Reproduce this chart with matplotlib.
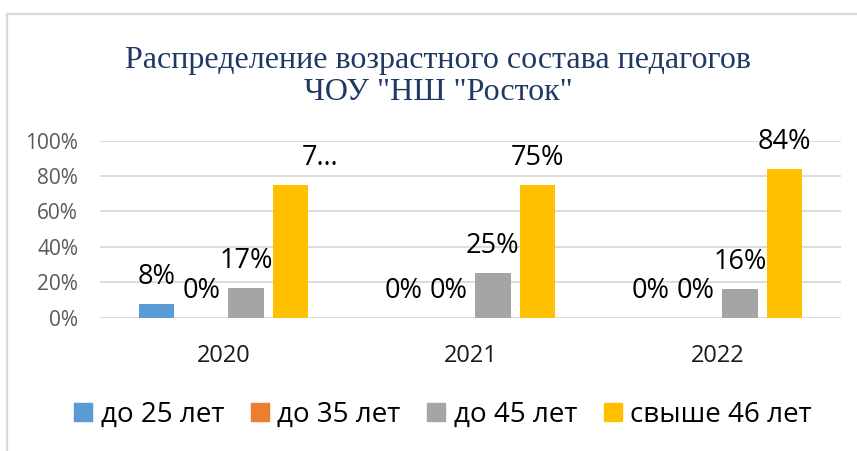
import numpy as np
import matplotlib
matplotlib.use('Agg')
import matplotlib.pyplot as plt
from matplotlib.patches import Patch
from matplotlib.ticker import PercentFormatter

# data
years = ['2020', '2021', '2022']
groups = ['до 25 лет', 'до 35 лет', 'до 45 лет', 'свыше 46 лет']
under25 = [0.08, 0.0, 0.0]
under35 = [0.0, 0.0, 0.0]
under45 = [0.17, 0.25, 0.16]
over46 = [0.75, 0.75, 0.84]
colors = ['#5B9BD5', '#ED7D31', '#A5A5A5', '#FFC000']

title = 'Распределение возрастного состава педагогов\nЧОУ "НШ "Росток"'

plt.rcParams['font.family'] = ['Open Sans', 'DejaVu Sans']

fig = plt.figure(figsize=(8.57, 4.51), dpi=100)
ax = fig.add_axes([100 / 857, 133.3 / 451, 741 / 857, 177 / 451])

# frame around the chart (left and top edge visible)
fig.add_artist(plt.Line2D([7.5 / 857, 7.5 / 857], [0, 1 - 14 / 451], color='#d9d9d9', lw=1.6))
fig.add_artist(plt.Line2D([7.5 / 857, 1], [1 - 14 / 451, 1 - 14 / 451], color='#d9d9d9', lw=1.6))

x = np.arange(len(years))
width = 0.144
step = 0.181
series = [under25, under35, under45, over46]

for i, vals in enumerate(series):
    pos = x + (i - 1.5) * step
    ax.bar(pos, vals, width, color=colors[i], zorder=3)
    for j, v in enumerate(vals):
        if i == 3 and j == 0:
            # excel cut this label short
            ax.annotate('7…', (pos[j], v), xytext=(8, 14.4), textcoords='offset points',
                        ha='left', va='baseline', fontsize=19.5, color='black')
        else:
            ax.annotate(f'{v:.0%}', (pos[j], v), xytext=(0, 14.4), textcoords='offset points',
                        ha='center', va='baseline', fontsize=19.5, color='black')

ax.set_xlim(-0.5, 2.5)
ax.set_ylim(0, 1)
ax.set_yticks(np.arange(0, 1.01, 0.2))
ax.yaxis.set_major_formatter(PercentFormatter(1.0, decimals=0))
ax.set_xticks(x)
ax.set_xticklabels(years)

ax.grid(axis='y', color='#d9d9d9', lw=1.3, zorder=0)
for s in ['top', 'right', 'left', 'bottom']:
    ax.spines[s].set_visible(False)
ax.tick_params(axis='y', length=0, pad=15.8, labelsize=15, labelcolor='#595959')
ax.tick_params(axis='x', length=0, pad=19, labelsize=17, labelcolor='#1a1a1a')

fig.text(438 / 857, 1 - 100 / 451, title, ha='center', va='baseline',
         fontsize=23, color='#1F3864', family='Liberation Serif', linespacing=1.12)

handles = [Patch(color=c) for c in colors]
fig.legend(handles, groups, ncol=4, loc='center', bbox_to_anchor=(443 / 857, 1 - 415 / 451),
           frameon=False, fontsize=20, handlelength=0.66, handleheight=0.62,
           handletextpad=0.3, columnspacing=0.95)

fig.savefig('out.png', dpi=100)
